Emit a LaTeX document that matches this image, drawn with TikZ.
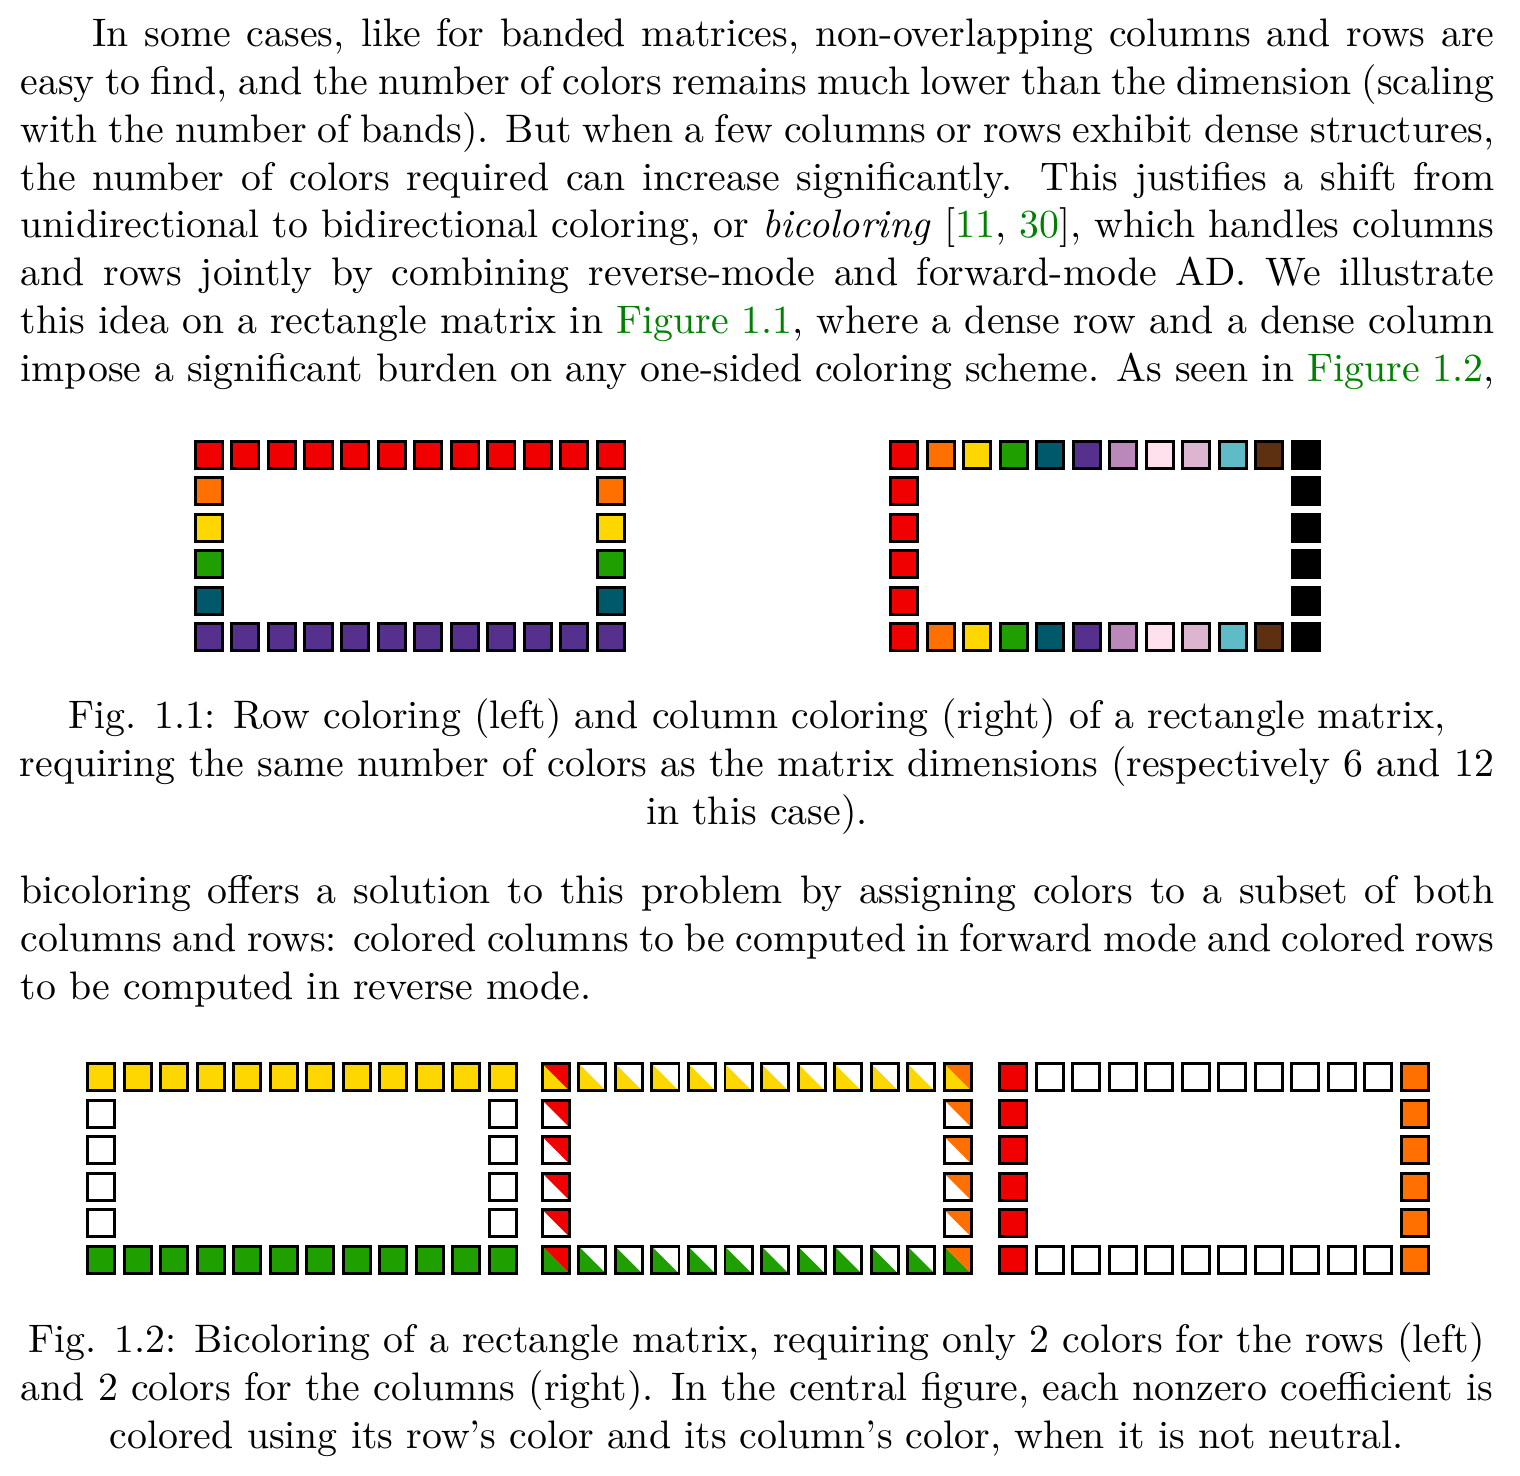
\documentclass[tikz,border=0pt]{standalone}
\usepackage{fontspec}
\usepackage{tikz}

\definecolor{cred}{RGB}{240,0,0}
\definecolor{corange}{RGB}{255,112,0}
\definecolor{cyellow}{RGB}{255,215,0}
\definecolor{cgreen}{RGB}{32,160,0}
\definecolor{cteal}{RGB}{0,89,106}
\definecolor{cpurple}{RGB}{85,48,141}
\definecolor{clilac}{RGB}{187,136,187}
\definecolor{cpink}{RGB}{255,224,236}
\definecolor{cmauve}{RGB}{221,181,208}
\definecolor{ccyan}{RGB}{95,188,198}
\definecolor{cbrown}{RGB}{92,48,16}
\definecolor{linkgreen}{RGB}{0,128,0}

\tikzset{
  para/.style={anchor=north west, inner sep=0pt, text width=370.4pt, align=justify},
  capt/.style={anchor=north, inner sep=0pt, align=center},
  cell/.style={draw=black, line width=0.75pt}
}
% one square, and one square split along its diagonal
\newcommand{\cell}[3]{\filldraw[cell, fill=#3, shift={(#1,#2)}] (-3.4,-3.4) rectangle (3.4,3.4);}
\newcommand{\halfcell}[4]{%
  \fill[#3, shift={(#1,#2)}] (-3.4,3.4) -- (-3.4,-3.4) -- (3.4,-3.4) -- cycle;
  \fill[#4, shift={(#1,#2)}] (-3.4,3.4) -- (3.4,3.4) -- (3.4,-3.4) -- cycle;
  \draw[cell, shift={(#1,#2)}] (-3.4,-3.4) rectangle (3.4,3.4);}
\newcommand{\lnk}[1]{\textcolor{linkgreen}{#1}}

\begin{document}
\begin{tikzpicture}[x=1pt, y=1pt]
  \useasboundingbox (0,0) rectangle (382,-370.9);

  \node[para] (Intro) at (5,-3.2) {\parfillskip=0pt\strut\hspace*{18pt}In some cases, like for banded matrices, non-overlapping columns and rows are\linebreak
    easy to find, and the number of colors remains much lower than the dimension (scaling\linebreak
    with the number of bands). But when a few columns or rows exhibit dense structures,\linebreak
    the number of colors required can increase significantly. This justifies a shift from\linebreak
    unidirectional to bidirectional coloring, or \emph{bicoloring} [\lnk{11}, \lnk{30}], which handles columns\linebreak
    and rows jointly by combining reverse-mode and forward-mode AD. We illustrate\linebreak
    this idea on a rectangle matrix in \lnk{Figure 1.1}, where a dense row and a dense column\linebreak
    impose a significant burden on any one-sided coloring scheme. As seen in \lnk{Figure 1.2},};

  % row coloring
  \foreach \c in {0,...,11} {
    \cell{52.5+\c*9.18}{-114.3}{cred}
    \cell{52.5+\c*9.18}{-160.2}{cpurple}
  }
  \foreach \col [count=\r] in {corange,cyellow,cgreen,cteal} {
    \cell{52.5}{-114.3-\r*9.18}{\col}
    \cell{153.48}{-114.3-\r*9.18}{\col}
  }
  % column coloring
  \foreach \col [count=\i from 0] in {cred,corange,cyellow,cgreen,cteal,cpurple,clilac,cpink,cmauve,ccyan,cbrown,black} {
    \cell{227.2+\i*9.18}{-114.3}{\col}
    \cell{227.2+\i*9.18}{-160.2}{\col}
  }
  \foreach \r in {1,...,4} {
    \cell{227.2}{-114.3-\r*9.18}{cred}
    \cell{328.18}{-114.3-\r*9.18}{black}
  }

  \node[capt] (CapOne) at (190.2,-174.5) {\strut Fig. 1.1: Row coloring (left) and column coloring (right) of a rectangle matrix,\\
    requiring the same number of colors as the matrix dimensions (respectively 6 and 12\\
    in this case).};

  \node[para] (Followup) at (5,-218.5) {\strut bicoloring offers a solution to this problem by assigning colors to a subset of both\linebreak
    columns and rows: colored columns to be computed in forward mode and colored rows\linebreak
    to be computed in reverse mode.};

  % bicoloring: rows
  \foreach \c in {0,...,11} {
    \cell{25.4+\c*9.18}{-270.7}{cyellow}
    \cell{25.4+\c*9.18}{-316.6}{cgreen}
  }
  \foreach \r in {1,...,4} {
    \cell{25.4}{-270.7-\r*9.18}{white}
    \cell{126.38}{-270.7-\r*9.18}{white}
  }
  % bicoloring: both
  \foreach \col [count=\i from 0] in {cred,white,white,white,white,white,white,white,white,white,white,corange} {
    \halfcell{139.7+\i*9.18}{-270.7}{cyellow}{\col}
    \halfcell{139.7+\i*9.18}{-316.6}{cgreen}{\col}
  }
  \foreach \r in {1,...,4} {
    \halfcell{139.7}{-270.7-\r*9.18}{white}{cred}
    \halfcell{240.68}{-270.7-\r*9.18}{white}{corange}
  }
  % bicoloring: columns
  \foreach \col [count=\i from 0] in {cred,white,white,white,white,white,white,white,white,white,white,corange} {
    \cell{254.6+\i*9.18}{-270.7}{\col}
    \cell{254.6+\i*9.18}{-316.6}{\col}
  }
  \foreach \r in {1,...,4} {
    \cell{254.6}{-270.7-\r*9.18}{cred}
    \cell{355.58}{-270.7-\r*9.18}{corange}
  }

  \node[capt] (CapTwo) at (190.2,-331.4) {\strut Fig. 1.2: Bicoloring of a rectangle matrix, requiring only 2 colors for the rows (left)\\
    and 2 colors for the columns (right). In the central figure, each nonzero coefficient is\\
    colored using its row's color and its column's color, when it is not neutral.};
\end{tikzpicture}
\end{document}
